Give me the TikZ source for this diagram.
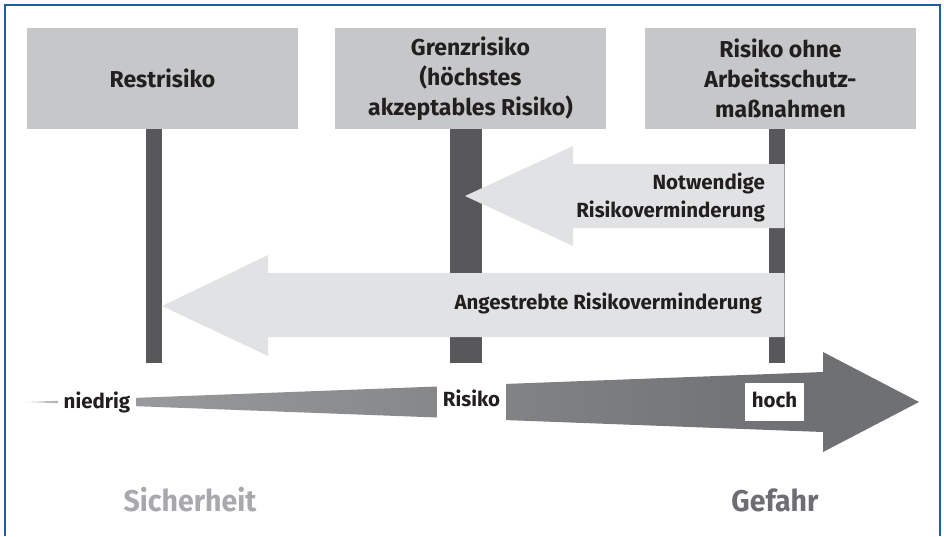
\documentclass[tikz,border=0pt]{standalone}
\usepackage{fontspec}
\setmainfont{Fira Sans}
\newfontfamily\polefont{Fira Sans}[FakeStretch=0.95]

\definecolor{framblue}{HTML}{1F5CA6}
\definecolor{boxgray}{HTML}{C6C7C8}
\definecolor{postgray}{HTML}{58585A}
\definecolor{bandgray}{HTML}{E1E2E3}
\definecolor{edgegray}{HTML}{A0A0A2}
\definecolor{ink}{HTML}{231F20}
\definecolor{safegray}{HTML}{A7A9AC}
\definecolor{dangergray}{HTML}{6D6E71}
\definecolor{rA}{HTML}{D4D4D5}
\definecolor{rB}{HTML}{9C9D9F}
\definecolor{rC}{HTML}{848587}
\definecolor{rD}{HTML}{6F7073}

% risk scale: faint at the low end, dark towards the arrow head
\pgfdeclarehorizontalshading{riskfade}{100bp}{color(0bp)=(rA); color(25bp)=(rA);
  color(28bp)=(rB); color(50bp)=(rC); color(68bp)=(rD); color(100bp)=(rD)}

\begin{document}
\begin{tikzpicture}[x=1pt,y=-1pt,
  labelbox/.style={fill=boxgray, minimum width=271pt, minimum height=101pt,
    inner sep=0pt, align=center, text=ink,
    font=\bfseries\fontsize{23}{30}\selectfont},
  postbar/.style={fill=postgray},
  band/.style={fill=bandgray},
  bandedge/.style={draw=edgegray, line width=0.8pt},
  arrowtext/.style={font=\bfseries\fontsize{20.5}{28}\selectfont, align=right,
    anchor=east, text=ink, inner sep=0pt},
  scaletag/.style={fill=white, inner sep=0pt, text=ink,
    font=\bfseries\fontsize{20.5}{24}\selectfont, text height=15pt, text depth=5pt},
  polelabel/.style={font=\polefont\bfseries\fontsize{30}{36}\selectfont, inner sep=0pt}
]
\useasboundingbox (0,0) rectangle (944,536);

% outer frame (bottom edge lies below the page)
\draw[framblue, line width=2.5pt] (5,536) -- (5,5) -- (940,5) -- (940,536);

% headings
\node[labelbox] (rest)  at (162.5,78.5) {Restrisiko};
\node[labelbox] (grenz) at (470.5,78.5) {Grenzrisiko\\(höchstes\\akzeptables Risiko)};
\node[labelbox] (ohne)  at (780.5,78.5) {Risiko ohne\\Arbeitsschutz-\\maßnahmen};

% posts below the headings
\fill[postbar] (146,129) rectangle (162,363);
\fill[postbar] (450,129) rectangle (482,363);
\fill[postbar] (769,129) rectangle (785,363);

% necessary risk reduction
\fill[band] (465,196) -- (573,146) -- (573,164) -- (784,164) -- (784,228)
  -- (573,228) -- (573,246) -- cycle;
\draw[bandedge] (784,164) -- (784,228);
\node[arrowtext] (notw) at (765,197) {Notwendige\\Risikoverminderung};

% targeted risk reduction
\fill[band] (162,306) -- (268,255) -- (268,273) -- (784,273) -- (784,337)
  -- (268,337) -- (268,356) -- cycle;
\draw[bandedge] (784,273) -- (784,337);
\node[arrowtext] (angs) at (762,303) {Angestrebte Risikoverminderung};

% risk scale
\path[shading=riskfade] (25,402) -- (823,372) -- (823,352) -- (919,402)
  -- (823,452) -- (823,432) -- cycle;
\node[scaletag, minimum width=78pt, minimum height=30pt] (low)  at (97,403) {niedrig};
\node[scaletag, minimum width=69pt, minimum height=37pt] (mid)  at (471.5,401.5) {Risiko};
\node[scaletag, minimum width=59pt, minimum height=38pt] (high) at (774.5,402) {hoch};

% poles
\node[polelabel, text=safegray]   (safe)   at (190,500) {Sicherheit};
\node[polelabel, text=dangergray] (danger) at (775,500) {Gefahr};
\end{tikzpicture}
\end{document}
